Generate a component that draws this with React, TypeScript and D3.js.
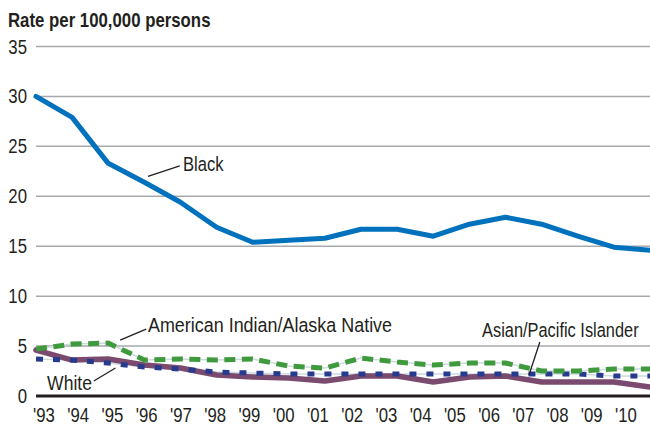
import React from 'react';
import * as d3 from 'd3';

const years = [1993, 1994, 1995, 1996, 1997, 1998, 1999, 2000, 2001, 2002, 2003, 2004, 2005, 2006, 2007, 2008, 2009, 2010];
const yearLabels = ["'93", "'94", "'95", "'96", "'97", "'98", "'99", "'00", "'01", "'02", "'03", "'04", "'05", "'06", "'07", "'08", "'09", "'10"];
const yTicks = [0, 5, 10, 15, 20, 25, 30, 35];

const black = [30.0, 27.9, 23.3, 21.4, 19.4, 16.9, 15.4, 15.6, 15.8, 16.7, 16.7, 16.0, 17.2, 17.9, 17.2, 16.0, 14.9, 14.6];
const aian = [4.7, 5.2, 5.3, 3.6, 3.7, 3.6, 3.7, 3.0, 2.8, 3.8, 3.4, 3.1, 3.3, 3.3, 2.5, 2.5, 2.7, 2.7];
const api = [3.7, 3.6, 3.3, 2.9, 2.7, 2.4, 2.3, 2.2, 2.2, 2.2, 2.2, 2.2, 2.2, 2.2, 2.2, 2.2, 2.0, 2.0];
const white = [4.6, 3.6, 3.7, 3.1, 2.8, 2.1, 1.9, 1.8, 1.5, 2.0, 2.0, 1.4, 1.9, 2.0, 1.4, 1.4, 1.4, 0.9];

// no condensed face installed, so Liberation Sans is squeezed horizontally
const FONT = "'Liberation Sans', Arial, sans-serif";
const TEXT = '#231f20';

interface Note {
  text: string;
  tx: number; ty: number; anchor: 'start' | 'end'; sx: number;
  from: [number, number]; to: [number, number];
}

// annotation positions in data units (year, rate)
const notes: Note[] = [
  { text: 'Black', tx: 1997.07, ty: 22.5, anchor: 'start', sx: 0.85, from: [1996.1, 22.0], to: [1996.98, 23.05] },
  { text: 'American Indian/Alaska Native', tx: 1996.1, ty: 6.4, anchor: 'start', sx: 0.92, from: [1995.33, 5.6], to: [1996.05, 6.7] },
  { text: 'White', tx: 1994.55, ty: 0.6, anchor: 'end', sx: 0.9, from: [1994.6, 1.5], to: [1995.2, 2.8] },
  { text: 'Asian/Pacific Islander', tx: 2005.35, ty: 5.9, anchor: 'start', sx: 0.84, from: [2006.65, 2.1], to: [2006.95, 5.4] },
];

const SText: React.FC<{ x: number; y: number; anchor?: string; size?: number; bold?: boolean; sx?: number; children: React.ReactNode }> = ({ x, y, anchor = 'start', size = 19, bold, sx = 0.86, children }) => (
  <text transform={`translate(${x},${y}) scale(${sx},1)`} textAnchor={anchor} fontFamily={FONT}
    fontSize={size} fontWeight={bold ? 'bold' : 'normal'} fill={TEXT}>{children}</text>
);

export default function App() {
  const W = 650, H = 428;
  const x = d3.scaleLinear().domain([1993, 2010]).range([36, 650]);
  const xl = d3.scalePoint<string>().domain(yearLabels).range([44, 626]);
  const y = d3.scaleLinear().domain([0, 35]).range([396, 46.5]);

  const line = d3.line<number>()
    .x((_, i) => x(years[i]))
    .y(d => y(d));

  return (
    <svg width={W} height={H} style={{ position: 'absolute', left: 0, top: 0, background: '#fff' }}>
      <SText x={8} y={27} size={20} bold sx={0.84}>Rate per 100,000 persons</SText>

      {yTicks.filter(t => t > 0).map(t => (
        <line key={t} x1={36} x2={650} y1={y(t)} y2={y(t)} stroke="#a7a9ac" strokeWidth={1.5} />
      ))}
      {yTicks.map(t => (
        <SText key={t} x={27} y={y(t) + 7} anchor="end" size={19.5}>{t}</SText>
      ))}

      {/* thin guide lines behind dashed series */}
      <path d={line(aian) || ''} fill="none" stroke="#cfd9e0" strokeWidth={1.5} />
      <path d={line(api) || ''} fill="none" stroke="#cfd9e0" strokeWidth={1.5} />

      <path d={line(white) || ''} fill="none" stroke="#7a4a6f" strokeWidth={5.5} strokeLinejoin="round" strokeLinecap="round" />
      <path d={line(api) || ''} fill="none" stroke="#263a8e" strokeWidth={5} strokeDasharray="7 10" />
      <path d={line(aian) || ''} fill="none" stroke="#3e9a3c" strokeWidth={5} strokeDasharray="11 6.5" />
      <path d={line(black) || ''} fill="none" stroke="#0071bc" strokeWidth={5} strokeLinejoin="round" strokeLinecap="round" />

      <line x1={36} x2={650} y1={y(0)} y2={y(0)} stroke="#231f20" strokeWidth={3} />

      {yearLabels.map(l => (
        <SText key={l} x={xl(l) ?? 0} y={422} anchor="middle" size={19.5}>{l}</SText>
      ))}

      {notes.map(n => (
        <g key={n.text}>
          <line x1={x(n.from[0])} y1={y(n.from[1])} x2={x(n.to[0])} y2={y(n.to[1])} stroke={TEXT} strokeWidth={1.3} />
          <SText x={x(n.tx)} y={y(n.ty)} anchor={n.anchor} size={19.5} sx={n.sx}>{n.text}</SText>
        </g>
      ))}
    </svg>
  );
}
